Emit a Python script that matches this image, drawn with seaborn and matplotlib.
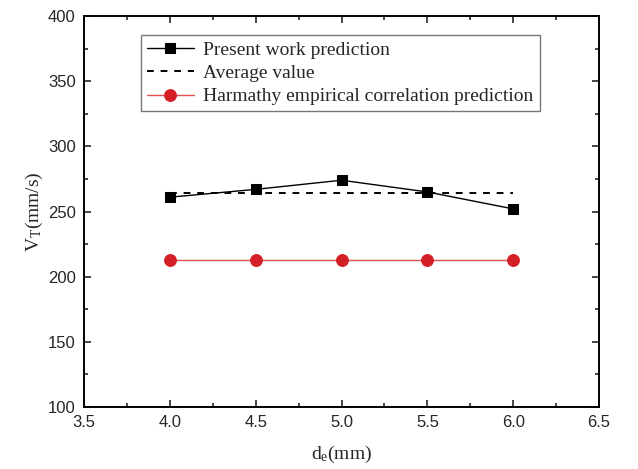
import numpy as np
import pandas as pd
import matplotlib
matplotlib.use("Agg")
import matplotlib.pyplot as plt
import seaborn as sns
from matplotlib.ticker import MultipleLocator

d_e = [4.0, 4.5, 5.0, 5.5, 6.0]
present_work = [261, 267, 274, 265, 252]
average_value = [264, 264, 264, 264, 264]
harmathy = [213, 213, 213, 213, 213]

sns.set_style("ticks")
plt.rcParams['font.family'] = ['Liberation Sans', 'DejaVu Sans']
plt.rcParams['mathtext.fontset'] = 'custom'
plt.rcParams['mathtext.rm'] = 'Liberation Serif'
plt.rcParams['mathtext.it'] = 'Liberation Serif:italic'

fig = plt.figure(figsize=(6.38, 4.69), dpi=100)
ax = fig.add_axes([0.1317, 0.132, 0.8073, 0.834])

df = pd.DataFrame({"d": d_e, "pw": present_work, "avg": average_value, "h": harmathy})

sns.lineplot(data=df, x="d", y="pw", ax=ax, color="black", lw=1.0, marker="s",
             markersize=7, markeredgecolor="black", label="Present work prediction")
sns.lineplot(data=df, x="d", y="avg", ax=ax, color="black", lw=1.4, linestyle=(0, (3.5, 3.5)),
             label="Average value")
sns.lineplot(data=df, x="d", y="h", ax=ax, color="#e05050", lw=1.0, marker="o",
             markersize=8.5, markerfacecolor="#d41f26", markeredgecolor="#d41f26",
             label="Harmathy empirical correlation prediction")

ax.set_xlim(3.5, 6.5)
ax.set_ylim(100, 400)
ax.xaxis.set_major_locator(MultipleLocator(0.5))
ax.xaxis.set_minor_locator(MultipleLocator(0.25))
ax.yaxis.set_major_locator(MultipleLocator(50))
ax.yaxis.set_minor_locator(MultipleLocator(25))
ax.xaxis.set_major_formatter(matplotlib.ticker.FormatStrFormatter('%.1f'))
ax.tick_params(which='both', direction='in', top=True, right=True, labelsize=12, width=1.2)
ax.tick_params(which='major', length=5)
ax.tick_params(which='minor', length=3)
ax.tick_params(axis='y', pad=6)
ax.tick_params(axis='x', pad=6)
for s in ax.spines.values():
    s.set_linewidth(1.4)
    s.set_color('black')

ax.set_xlabel(r'd$_\mathrm{e}$(mm)', family=['Liberation Serif'], fontsize=14, labelpad=10)
ax.set_ylabel(r'V$_\mathrm{T}$(mm/s)', family=['Liberation Serif'], fontsize=14, labelpad=2)

leg = ax.legend(loc='upper left', bbox_to_anchor=(0.111, 0.951), frameon=True, fancybox=False,
                edgecolor='#555555', prop={'family': 'Liberation Serif', 'size': 14},
                handlelength=2.4, borderpad=0.3, labelspacing=0.3, handletextpad=0.5,
                borderaxespad=0.0)
leg.get_frame().set_linewidth(1.0)

fig.savefig("out.png", dpi=100)
